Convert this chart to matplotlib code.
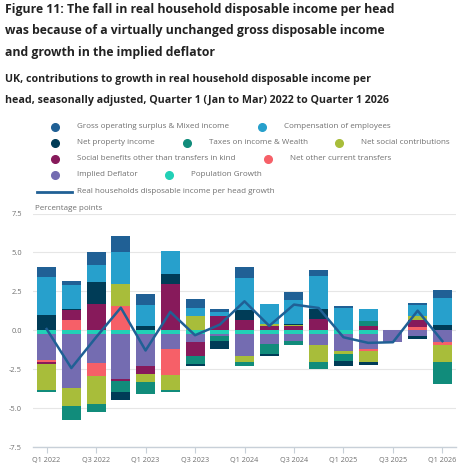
import numpy as np
import matplotlib
matplotlib.use("Agg")
import matplotlib.pyplot as plt
from matplotlib.lines import Line2D

plt.rcParams["font.family"] = ["Open Sans", "DejaVu Sans"]
plt.rcParams["axes.unicode_minus"] = False

# ---------------- data (percentage points) ----------------
quarters = ["Q1 2022", "Q2 2022", "Q3 2022", "Q4 2022", "Q1 2023", "Q2 2023", "Q3 2023",
            "Q4 2023", "Q1 2024", "Q2 2024", "Q3 2024", "Q4 2024", "Q1 2025", "Q2 2025",
            "Q3 2025", "Q4 2025", "Q1 2026"]

gos_mixed = [0.65, 0.28, 0.81, 1.07, 0.68, 0.0, 0.60, 0.15, 0.69, 0.0, 0.55, 0.34, 0.15, 0.0, 0.0, 0.15, 0.53]
compensation = [2.44, 1.52, 1.12, 2.01, 1.37, 1.47, 0.47, 0.30, 2.08, 1.28, 1.50, 2.12, 1.43, 0.81, 0.0, 0.70, 1.72]
net_property = [0.96, 0.09, 1.39, -0.47, 0.25, 0.60, -0.11, -0.50, 0.64, -0.13, 0.08, 0.66, -0.28, -0.19, 0.0, -0.20, 0.36]
taxes = [-0.17, -0.86, -0.56, -0.70, -0.75, -0.13, -0.49, -0.32, -0.24, -0.64, -0.26, -0.43, -0.49, 0.28, 0.0, 0.0, -1.42]
net_social_contrib = [-1.63, -1.18, -1.80, 1.46, -0.54, -0.96, 0.94, 0.0, -0.36, 0.10, 0.10, -1.11, -0.15, -0.71, 0.0, 0.25, -1.11]
social_benefits = [-0.12, 0.60, 1.69, -0.18, -0.47, 3.00, -0.90, 0.90, 0.64, 0.30, 0.25, 0.73, 0.0, 0.30, 0.0, 0.45, 0.0]
net_other_transfers = [-0.15, 0.68, -0.81, 1.54, 0.0, -1.69, 0.0, 0.0, 0.0, 0.0, 0.0, 0.0, 0.0, -0.15, 0.0, 0.20, -0.15]
implied_deflator = [-1.67, -3.46, -1.86, -2.86, -2.07, -0.96, -0.53, -0.15, -1.43, -0.62, -0.46, -0.68, -1.11, -0.96, -0.77, -0.35, -0.77]
population = [-0.24, -0.24, -0.24, -0.24, -0.24, -0.24, -0.24, -0.24, -0.24, -0.24, -0.24, -0.24, -0.24, -0.24, 0.0, 0.0, 0.0]

rhdi_per_head = [0.08, -2.43, -0.45, 1.45, -1.30, 1.18, -0.32, 0.36, 1.86, 0.28, 1.65, 1.43, -0.45, -0.81, -0.77, 1.26, -0.70]

# stacked outward from zero in this order
series = [
    ("Population Growth", population, "#22d0b6"),
    ("Implied Deflator", implied_deflator, "#746cb1"),
    ("Net other current transfers", net_other_transfers, "#f66068"),
    ("Social benefits other than transfers in kind", social_benefits, "#871a5b"),
    ("Net social contributions", net_social_contrib, "#a8bd3a"),
    ("Taxes on income & Wealth", taxes, "#118c7b"),
    ("Net property income", net_property, "#003c57"),
    ("Compensation of employees", compensation, "#27a0cc"),
    ("Gross operating surplus & Mixed income", gos_mixed, "#206095"),
]
colors = {name: c for name, _, c in series}
line_color = "#206095"
grey = "#707070"

W, H = 465, 474
fig = plt.figure(figsize=(W / 100, H / 100), dpi=100)

def fx(px):
    return px / W

def fy(px):
    return 1 - px / H

# ---------------- titles ----------------
title = ["Figure 11: The fall in real household disposable income per head",
         "was because of a virtually unchanged gross disposable income",
         "and growth in the implied deflator"]
for i, t in enumerate(title):
    fig.text(fx(5), fy(9 + i * 21.7), t, fontsize=8.8, fontweight="bold", color="#222222", va="center")
subtitle = ["UK, contributions to growth in real household disposable income per",
            "head, seasonally adjusted, Quarter 1 (Jan to Mar) 2022 to Quarter 1 2026"]
for i, t in enumerate(subtitle):
    fig.text(fx(5), fy(80 + i * 21), t, fontsize=7.7, fontweight="bold", color="#222222", va="center")

# ---------------- legend (manual layout) ----------------
legend_rows = [
    (127, [(55, "Gross operating surplus & Mixed income"), (262, "Compensation of employees")]),
    (143, [(55, "Net property income"), (187, "Taxes on income & Wealth"), (339, "Net social contributions")]),
    (159, [(55, "Social benefits other than transfers in kind"), (268, "Net other current transfers")]),
    (175, [(55, "Implied Deflator"), (169, "Population Growth")]),
]
for ypx, items in legend_rows:
    for xpx, name in items:
        fig.add_artist(Line2D([fx(xpx)], [fy(ypx)], marker="o", markersize=5.5, color=colors[name],
                              linestyle="none", transform=fig.transFigure))
        fig.text(fx(xpx + 21.5), fy(ypx), name, fontsize=5.8, color=grey, va="center")
fig.add_artist(Line2D([fx(37), fx(72)], [fy(191.5), fy(191.5)], color=line_color, lw=2,
                      transform=fig.transFigure))
fig.text(fx(76.5), fy(191.5), "Real households disposable income per head growth", fontsize=5.8,
         color=grey, va="center")

# ---------------- chart ----------------
ax = fig.add_axes([fx(33), fy(447), fx(456) - fx(33), fy(213.5) - fy(447)])
x = np.arange(len(quarters))
pos_bottom = np.zeros(len(quarters))
neg_bottom = np.zeros(len(quarters))
for name, vals, col in series:
    v = np.array(vals)
    pos = np.where(v > 0, v, 0)
    neg = np.where(v < 0, v, 0)
    ax.bar(x, pos, bottom=pos_bottom, width=0.77, color=col, linewidth=0)
    ax.bar(x, neg, bottom=neg_bottom, width=0.77, color=col, linewidth=0)
    pos_bottom += pos
    neg_bottom += neg

ax.plot(x, rhdi_per_head, color=line_color, lw=1.8, zorder=5)

ax.set_xlim(-0.55, 16.55)
ax.set_ylim(-7.5, 7.5)
ax.set_yticks([7.5, 5.0, 2.5, 0.0, -2.5, -5.0, -7.5])
ax.set_yticklabels(["7.5", "5.0", "2.5", "0.0", "-2.5", "-5.0", "-7.5"])
ax.set_xticks(x[::2])
ax.set_xticklabels(quarters[::2])
ax.tick_params(axis="y", length=0, labelsize=5.4, labelcolor=grey, pad=8)
ax.tick_params(axis="x", length=4, color="#c8d0d8", labelsize=5.2, labelcolor=grey, pad=3)
ax.yaxis.grid(True, color="#e6e6e6", lw=0.8)
ax.set_axisbelow(True)
for s in ["top", "right", "left"]:
    ax.spines[s].set_visible(False)
ax.spines["bottom"].set_color("#c8d0d8")
ax.spines["bottom"].set_linewidth(1)
fig.text(fx(35), fy(208), "Percentage points", fontsize=5.8, color=grey, va="center")

fig.savefig("out.png", dpi=100)
